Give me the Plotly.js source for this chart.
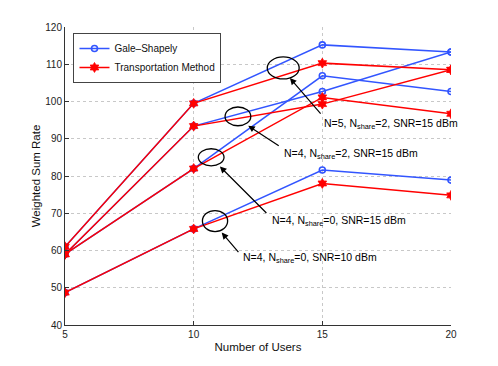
<!DOCTYPE html>
<html>
<head>
<meta charset="utf-8">
<script src="https://cdn.plot.ly/plotly-3.0.1.min.js"></script>
<style>
  html, body { margin: 0; padding: 0; background: #fff; }
  #chartDiv { width: 498px; height: 366px; }
</style>
</head>
<body>
<div id="chartDiv"></div>
<script>
// number of users on the x axis
var users = [5, 10, 15, 20];

// Gale-Shapely (blue) results
var gsN5S2snr15 = [61.0, 99.5, 115.2, 113.3];
var gsN4S2snr15 = [59.0, 93.4, 102.7, 113.3];
var gsN4S0snr15 = [59.0, 82.0, 106.9, 102.7];
var gsN4S0snr10 = [48.7, 65.8, 81.6, 78.9];

// Transportation method (red) results
var tmN5S2snr15 = [61.0, 99.5, 110.3, 108.5];
var tmN4S2snr15 = [59.0, 93.4, 99.3, 108.5];
var tmN4S0snr15 = [59.0, 82.0, 101.1, 96.7];
var tmN4S0snr10 = [48.7, 65.8, 78.0, 74.8];

var yTicks = [40, 50, 60, 70, 80, 90, 100, 110, 120];

var blue = 'rgb(50,85,255)';
var red = 'rgb(255,0,0)';
var font = 'Liberation Sans, Arial, sans-serif';

var data = []; // plot data to be added in later

// add one curve, only the first of each method shows in the legend
function addCurve(y, name, color, marker, showLegend) {
    data.push({
        x: users,
        y: y,
        mode: 'lines+markers',
        type: 'scatter',
        name: name,
        legendgroup: name,
        showlegend: showLegend,
        line: {color: color, width: 1.5},
        marker: marker
    });
}

var circle = {symbol: 'circle-open', size: 6, color: blue, line: {width: 1.6, color: blue}};
var star = {symbol: 'hexagram', size: 7.5, color: red, line: {width: 0.8, color: red}};

addCurve(gsN5S2snr15, 'Gale\u2013Shapely', blue, circle, true);
addCurve(gsN4S2snr15, 'Gale\u2013Shapely', blue, circle, false);
addCurve(gsN4S0snr15, 'Gale\u2013Shapely', blue, circle, false);
addCurve(gsN4S0snr10, 'Gale\u2013Shapely', blue, circle, false);
addCurve(tmN5S2snr15, 'Transportation Method', red, star, true);
addCurve(tmN4S2snr15, 'Transportation Method', red, star, false);
addCurve(tmN4S0snr15, 'Transportation Method', red, star, false);
addCurve(tmN4S0snr10, 'Transportation Method', red, star, false);

// ellipse around a group of curves, in data units
function ring(x0, x1, y0, y1) {
    return {type: 'circle', xref: 'x', yref: 'y', x0: x0, x1: x1, y0: y0, y1: y1,
        line: {color: 'black', width: 1.3}};
}

// arrow from the label to the ellipse
function arrow(x, y, ax, ay) {
    return {x: x, y: y, ax: ax, ay: ay, text: '', showarrow: true,
        arrowhead: 2, arrowsize: 1.1, arrowwidth: 1.2, arrowcolor: 'black'};
}

function label(x, y, txt) {
    return {x: x, y: y, text: txt, showarrow: false, xanchor: 'left', yanchor: 'middle',
        font: {family: font, size: 10.5, color: '#000'}};
}

var layout = {
    width: 498,
    height: 366,
    margin: {l: 65, r: 47, t: 27, b: 41},
    paper_bgcolor: '#fff',
    plot_bgcolor: '#fff',
    font: {family: font, size: 10, color: '#222'},
    showlegend: true,
    legend: {
        x: 0.022, y: 0.98, xanchor: 'left', yanchor: 'top',
        bgcolor: '#fff', bordercolor: '#444', borderwidth: 1,
        font: {family: font, size: 10, color: '#111'},
        tracegroupgap: 0, itemwidth: 30
    },
    xaxis: {
        title: {text: 'Number of Users', font: {family: font, size: 11.5, color: '#111'}, standoff: 3},
        range: [5, 20],
        tickvals: users,
        ticks: 'inside', ticklen: 4, tickcolor: '#333',
        showline: true, linecolor: '#333', linewidth: 1,
        showgrid: true, gridcolor: '#c8c8c8', griddash: 'dot', gridwidth: 1,
        zeroline: false
    },
    yaxis: {
        title: {text: 'Weighted Sum Rate', font: {family: font, size: 11.5, color: '#111'}, standoff: 2},
        range: [40, 120],
        tickvals: yTicks,
        ticks: 'inside', ticklen: 4, tickcolor: '#333',
        showline: true, linecolor: '#333', linewidth: 1,
        showgrid: true, gridcolor: '#c8c8c8', griddash: 'dot', gridwidth: 1,
        zeroline: false
    },
    shapes: [
        ring(12.86, 14.10, 106.05, 111.96),
        ring(11.22, 12.22, 93.49, 98.52),
        ring(10.18, 11.18, 82.74, 87.31),
        ring(10.34, 11.32, 65.08, 70.73)
    ],
    annotations: [
        arrow(13.74, 106.3, 32, 37),
        arrow(12.12, 93.5, 32, 21),
        arrow(11.02, 82.55, 48, 48),
        arrow(11.09, 64.8, 18, 21),
        label(15.0, 94.0, 'N=5, N<sub>share</sub>=2, SNR=15 dBm'),
        label(13.45, 85.9, 'N=4, N<sub>share</sub>=2, SNR=15 dBm'),
        label(12.95, 67.9, 'N=4, N<sub>share</sub>=0, SNR=15 dBm'),
        label(11.82, 58.0, 'N=4, N<sub>share</sub>=0, SNR=10 dBm')
    ]
};

Plotly.newPlot('chartDiv', data, layout, {displayModeBar: false, staticPlot: true});
</script>
</body>
</html>
